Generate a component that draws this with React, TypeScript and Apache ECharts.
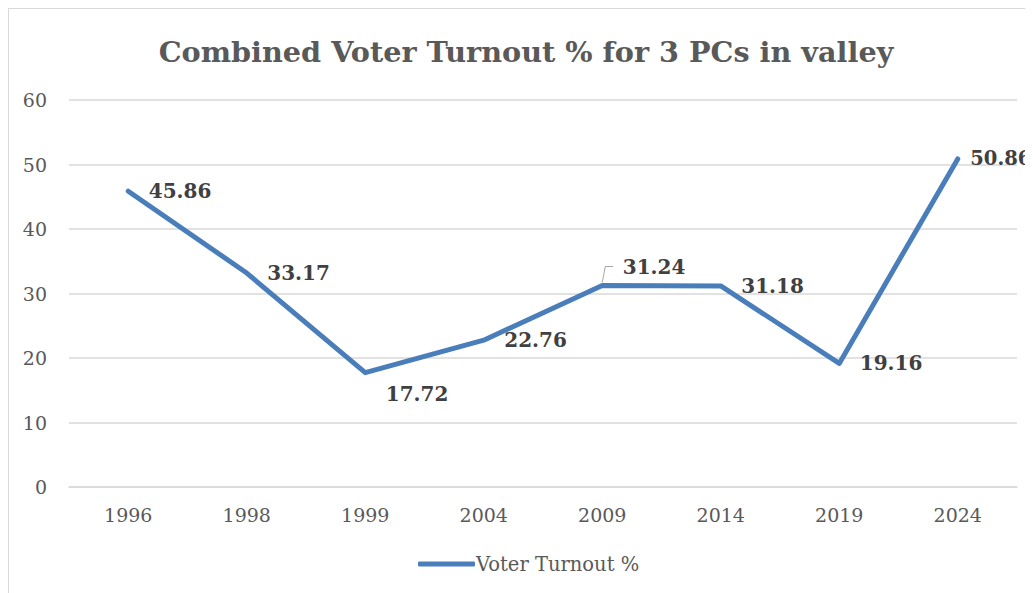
import React, { useEffect, useRef } from "react";
import * as echarts from "echarts";

const categories = ["1996", "1998", "1999", "2004", "2009", "2014", "2019", "2024"];
const turnout = [45.86, 33.17, 17.72, 22.76, 31.24, 31.18, 19.16, 50.86];
const seriesName = "Voter Turnout %";
const titleText = "Combined Voter Turnout % for 3 PCs in valley";
const leaderIndex = 4; // label of 2009 is lifted and has a callout line

const FONT = "'DejaVu Serif', serif";

export default function App() {
  const ref = useRef<HTMLDivElement>(null);
  useEffect(() => {
    if (!ref.current) return;
    const chart = echarts.init(ref.current, undefined, { renderer: "svg" });
    const data = turnout.map((v, i) => {
      if (i === 2) return { value: v, label: { offset: [0, 21] } };
      if (i === leaderIndex) return { value: v, label: { offset: [0, -19] } };
      if (i === 7) return { value: v, label: { offset: [-8, 0], fontSize: 19.5 } };
      return { value: v };
    });
    chart.setOption({
      animation: false,
      backgroundColor: "#ffffff",
      title: {
        text: titleText,
        left: 512,
        textAlign: "center",
        top: 23,
        textStyle: { fontFamily: FONT, fontSize: 28.7, fontWeight: "bold", color: "#595959" },
      },
      grid: { left: 60, right: 16, top: 91, bottom: 106, containLabel: false },
      legend: {
        show: true,
        left: 404,
        top: 540,
        icon: "roundRect",
        itemWidth: 57,
        itemHeight: 5,
        itemGap: 4,
        textStyle: { fontFamily: FONT, fontSize: 19.5, color: "#595959", padding: [0, 0, 0, -4] },
        data: [seriesName],
      },
      xAxis: {
        type: "category",
        data: categories,
        boundaryGap: true,
        axisLine: { show: true, lineStyle: { color: "#d9d9d9", width: 1.5 } },
        axisTick: { show: false },
        axisLabel: { fontFamily: FONT, fontSize: 19, color: "#595959", margin: 18 },
        splitLine: { show: false },
      },
      yAxis: {
        type: "value",
        min: 0,
        max: 60,
        interval: 10,
        axisLine: { show: false },
        axisTick: { show: false },
        axisLabel: { fontFamily: FONT, fontSize: 19, color: "#595959", margin: 22 },
        splitLine: { show: true, lineStyle: { color: "#d9d9d9", width: 1.5 } },
      },
      series: [
        {
          name: "leader",
          type: "custom",
          silent: true,
          z: 1,
          data: [[leaderIndex, turnout[leaderIndex]]],
          renderItem: (params: any, api: any) => {
            const p = api.coord([api.value(0), api.value(1)]);
            return {
              type: "polyline",
              shape: {
                points: [
                  [p[0], p[1] - 3],
                  [p[0] + 3, p[1] - 19],
                  [p[0] + 11, p[1] - 19],
                ],
              },
              style: { stroke: "#a6a6a6", lineWidth: 1, fill: "none" },
            };
          },
        },
        {
          name: seriesName,
          type: "line",
          z: 2,
          data,
          symbol: "circle",
          symbolSize: 1,
          showSymbol: true,
          itemStyle: { color: "#4a7ebb" },
          color: "#4a7ebb",
          lineStyle: { color: "#4a7ebb", width: 5, cap: "round", join: "round" },
          label: {
            show: true,
            position: "right",
            distance: 20,
            fontFamily: FONT,
            fontSize: 20,
            fontWeight: "bold",
            color: "#404040",
          },
        },
      ],
    });
    return () => chart.dispose();
  }, []);
  return (
    <div
      ref={ref}
      style={{
        width: 1024,
        height: 584,
        borderLeft: "1px solid #d9d9d9",
        borderTop: "1px solid #d9d9d9",
        overflow: "hidden",
      }}
    />
  );
}
